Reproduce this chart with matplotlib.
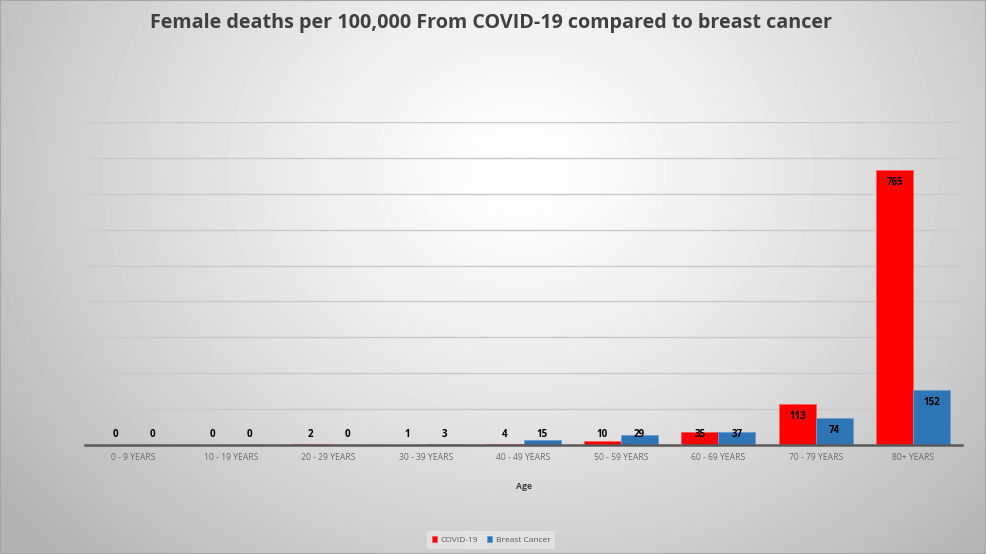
import numpy as np
import matplotlib.pyplot as plt

# 数据
age_groups = ["0 - 9 YEARS", "10 - 19 YEARS", "20 - 29 YEARS", "30 - 39 YEARS",
              "40 - 49 YEARS", "50 - 59 YEARS", "60 - 69 YEARS", "70 - 79 YEARS",
              "80+ YEARS"]
covid = [0, 0, 2, 1, 4, 10, 35, 113, 765]
breast_cancer = [0, 0, 0, 3, 15, 29, 37, 74, 152]

plt.rcParams['font.family'] = ['Open Sans', 'DejaVu Sans']

fig = plt.figure(figsize=(9.86, 5.54), dpi=100)

# 背景径向渐变
bg = fig.add_axes([0, 0, 1, 1])
yy, xx = np.mgrid[0:554, 0:986]
r = np.sqrt(((xx - 520) / 620.0) ** 2 + ((yy - 170) / 520.0) ** 2)
shade = np.clip(1.0 - 0.28 * r ** 1.3, 0.70, 1.0)
bg.imshow(shade, cmap='gray', vmin=0, vmax=1, aspect='auto', extent=[0, 1, 0, 1])
bg.set_xlim(0, 1)
bg.set_ylim(0, 1)
bg.axis('off')
bg.add_patch(plt.Rectangle((0, 0), 1, 1, fill=False, edgecolor='#a6a6a6',
                           linewidth=1.5, transform=bg.transAxes))

ax = fig.add_axes([0.0862, 0.1968, 0.8895, 0.583])
ax.patch.set_alpha(0)

x = np.arange(len(age_groups))
w = 0.38
b1 = ax.bar(x - w / 2, covid, w, color='#ff0000', edgecolor='#ff5a5a',
            linewidth=0.6, label='COVID-19', zorder=3)
b2 = ax.bar(x + w / 2, breast_cancer, w, color='#2e75b6', edgecolor='#6a9bd0',
            linewidth=0.6, label='Breast Cancer', zorder=3)

# 数据标签
for bars, vals in ((b1, covid), (b2, breast_cancer)):
    for rect, v in zip(bars, vals):
        ax.text(rect.get_x() + rect.get_width() / 2, max(v - 35, 28), str(v),
                ha='center', va='center', fontsize=7, fontweight='bold',
                color='black', zorder=4)

ax.set_xlim(-0.5, len(age_groups) - 0.5)
ax.set_ylim(0, 900)
ax.set_yticks(np.arange(0, 901, 100))
ax.yaxis.grid(True, color='#c9c9c9', linewidth=1)
ax.set_axisbelow(True)
ax.tick_params(axis='y', left=False, labelleft=False)
ax.tick_params(axis='x', length=0, pad=6, labelsize=6.2, labelcolor='#6b6b6b')
ax.set_xticks(x)
ax.set_xticklabels(age_groups)
for s in ['top', 'right', 'left']:
    ax.spines[s].set_visible(False)
ax.spines['bottom'].set_color('#595959')
ax.spines['bottom'].set_linewidth(1.8)
ax.spines['bottom'].set_zorder(5)

ax.set_xlabel("Age", fontsize=6.2, fontweight='bold', color='#404040', labelpad=14)

fig.text(0.498, 0.958, "Female deaths per 100,000 From COVID-19 compared to breast cancer",
         ha='center', va='center', fontsize=14.2, fontweight='bold', color='#404040')

leg = fig.legend(loc='center', bbox_to_anchor=(0.498, 0.025), ncol=2,
                 fontsize=6, frameon=True, handlelength=0.7, handleheight=0.7,
                 handletextpad=0.4, columnspacing=1.0, borderpad=0.6)
leg.get_frame().set_facecolor('#e6e6e6')
leg.get_frame().set_edgecolor('none')
leg.get_frame().set_alpha(0.8)
for t in leg.get_texts():
    t.set_color('#595959')

fig.savefig('out.png', dpi=100)
